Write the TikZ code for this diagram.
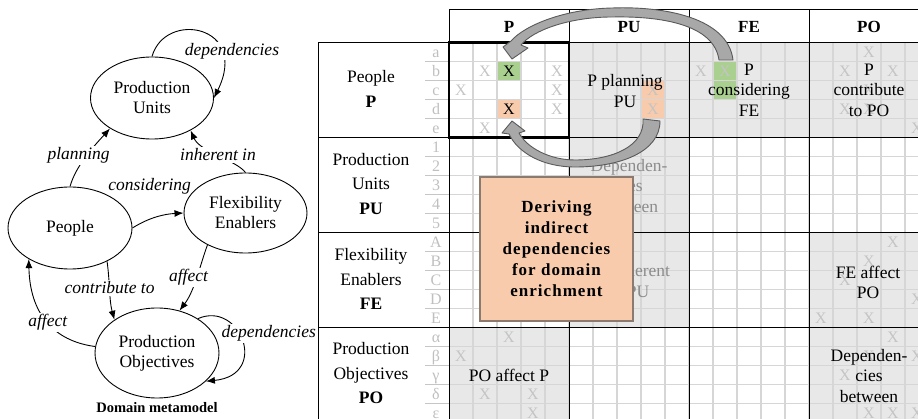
\documentclass[tikz,border=0pt]{standalone}
\usepackage{fontspec}
\setmainfont{Liberation Serif}
\usetikzlibrary{arrows.meta,shapes.geometric}

\definecolor{blockgray}{HTML}{E8E8E8}
\definecolor{gridgray}{HTML}{D6D6D6}
\definecolor{xgray}{HTML}{C4C4C4}
\definecolor{cellgreen}{HTML}{A9D08E}
\definecolor{cellorange}{HTML}{F8CBAD}
\definecolor{boxedge}{HTML}{8A7A70}
\definecolor{arrowfill}{HTML}{A8A8A8}
\definecolor{arrowedge}{HTML}{5A5A5A}

\begin{document}
\begin{tikzpicture}[x=1pt,y=-1pt,
  concept/.style={ellipse,draw,line width=0.9pt,inner sep=0pt,align=center,font=\fontsize{17.5}{20}\selectfont},
  rel/.style={-{Latex[length=9pt,width=7pt]},line width=0.9pt},
  lbl/.style={font=\fontsize{17.5}{20}\selectfont\itshape,fill=white,inner sep=1.5pt},
  gridline/.style={gridgray,line width=1.1pt},
  block/.style={line width=1pt},
  rowline/.style={line width=1.7pt},
  cellx/.style={font=\fontsize{16}{16}\selectfont,xgray,inner sep=0pt},
  hdr/.style={font=\fontsize{17}{20}\selectfont\bfseries},
  rowhdr/.style={align=center,font=\fontsize{17.5}{24.5}\selectfont},
  sub/.style={font=\fontsize{16}{16}\selectfont,gray!50,inner sep=0pt,anchor=base},
  cell/.style={align=center,font=\fontsize{17.5}{20.5}\selectfont,inner sep=0pt},
  curvy/.style={fill=arrowfill,draw=arrowedge,line width=0.9pt,line join=round}]
  \useasboundingbox (0,0) rectangle (918,419);

  % Domain metamodel
  \node[concept,minimum width=123pt,minimum height=82pt] (pu) at (152,98) {Production\\Units};
  \node[concept,minimum width=124pt,minimum height=82pt] (people) at (70,228) {People};
  \node[concept,minimum width=123pt,minimum height=80pt] (fe) at (245.5,213) {Flexibility\\Enablers};
  \node[concept,minimum width=124pt,minimum height=90pt] (po) at (157,353) {Production\\Objectives};
  \node[font=\fontsize{14.5}{16}\selectfont\bfseries] (title) at (157,408) {Domain metamodel};

  \draw[rel] (pu.north) .. controls (165,10) and (250,25) .. node[lbl,pos=0.7,xshift=13pt,yshift=-3pt] {dependencies} (pu.east);
  \draw[rel] (people.north) .. controls (76,165) and (95,145) .. node[lbl,pos=0.5,xshift=-8pt] {planning} (pu.216);
  \draw[rel] (fe.north) .. controls (236,160) and (200,152) .. node[lbl,pos=0.5] {inherent in} (pu.320);
  \draw[rel] (people.east) .. controls (150,217) and (165,214) .. node[lbl,pos=0.4,xshift=-3pt,yshift=32pt,fill=none] {considering} (fe.west);
  \draw[rel] (people.318) .. controls (110,282) and (109,300) .. node[lbl,pos=0.45] {contribute to} (po.142);
  \draw[rel] (fe.220) .. controls (200,265) and (195,290) .. node[lbl,pos=0.5,xshift=-8pt] {affect} (po.62);
  \draw[rel] (po.174) .. controls (60,342) and (30,320) .. node[lbl,pos=0.52] {affect} (people.217);
  \draw[rel] (po.40) .. controls (240,300) and (270,375) .. node[lbl,pos=0.5,xshift=27pt,yshift=7pt] {dependencies} (po.330);

  % Matrix: shaded blocks and marked cells
  \foreach \xa/\ya in {569/42.5,689/42.5,809/42.5,569/137.5,569/232.5,809/232.5,449/327.5,809/327.5}
    \fill[blockgray] (\xa,\ya) rectangle ++(120,95);
  \fill[cellgreen] (497,61.5) rectangle (521,80.5);
  \fill[cellgreen] (713,61.5) rectangle (737,99.5);
  \fill[cellorange] (497,99.5) rectangle (521,118.5);
  \fill[cellorange] (641,80.5) rectangle (665,118.5);

  % Grid
  \foreach \k in {1,...,19}
    \draw[gridline] (449+24*\k,42.5) -- (449+24*\k,419);
  \foreach \k in {1,...,19}
    \draw[gridline] (449,42.5+19*\k) -- (918,42.5+19*\k);
  \foreach \k in {1,...,19}
    \draw[gray!45,line width=0.8pt] (425,42.5+19*\k) -- (449,42.5+19*\k);

  % Block borders
  \draw[block] (449,10) -- (918,10);
  \foreach \xb in {449,569,689,809}
    \draw[block] (\xb,10) -- (\xb,419);
  \draw[block] (318,42.5) -- (318,419);
  \foreach \yb in {42.5,137.5,232.5,327.5}
    \draw[rowline] (318,\yb) -- (918,\yb);
  \draw[line width=2.4pt] (449,42.5) rectangle (569,137.5);

  % Headers
  \foreach \h [count=\i from 0] in {P,PU,FE,PO}
    \node[hdr] (h\h) at (509+120*\i,27) {\h};
  \node[rowhdr] (rp) at (371,89) {People\\\textbf{P}};
  \node[rowhdr] (rpu) at (371,184) {Production\\Units\\\textbf{PU}};
  \node[rowhdr] (rfe) at (371,279) {Flexibility\\Enablers\\\textbf{FE}};
  \node[rowhdr] (rpo) at (371,373.5) {Production\\Objectives\\\textbf{PO}};
  \foreach \lst [count=\b from 0] in {{a,b,c,d,e},{1,2,3,4,5},{A,B,C,D,E},{α,β,γ,δ,ε}}
    \foreach \s [count=\i] in \lst
      \node[sub] (sub\b\i) at (436,38.5+95*\b+19*\i) {\s};

  % X marks
  \foreach \px/\py [count=\n] in {485/71,557/71,461/90,557/90,557/109,485/128,
      653/90,653/109,701/71,725/71,
      869/52,845/71,893/71,869/90,845/109,869/109,917/128,
      893/242,869/261,845/280,917/299,821/318,869/318,
      893/337,869/356,917/356,845/375,869/413,893/413,917/413,
      509/337,461/356,485/394,533/394,533/413}
    \node[cellx] (mk\n) at (\px,\py) {X};
  \node[cellx,black] (mkb) at (509,71) {X};
  \node[cellx,black] (mkd) at (509,109) {X};

  % Block texts
  \node[cell] (tplan) at (625,91) {P planning\\PU};
  \node[cell] (tcons) at (749,90) {P\\considering\\FE};
  \node[cell] (tcontr) at (869,90) {P\\contribute\\to PO};
  \node[cell,black!45] (tdepu) at (629,186) {Dependen-\\cies\\between};
  \node[cell,black!45] (tinh) at (629,281) {FE inherent\\in PU};
  \node[cell] (tfeaff) at (868,282.5) {FE affect\\PO};
  \node[cell] (tpoaff) at (509,375) {PO affect P};
  \node[cell] (tdepo) at (869,376) {Dependen-\\cies\\between};

  % Derivation box
  \node[draw=boxedge,fill=cellorange,line width=1.3pt,minimum width=153pt,minimum height=144pt,align=center,
        font=\fontsize{17}{21}\selectfont\bfseries\addfontfeature{LetterSpace=6}] (deriving) at (556.5,249)
        {Deriving\\indirect\\dependencies\\for domain\\enrichment};

  % Curved arrows
  \draw[curvy] (733,60) .. controls (728,18) and (665,6) .. (612,8) .. controls (565,9) and (525,25) .. (511,41)
    -- (503,47) -- (512,59) -- (528,48) -- (521,45) .. controls (533,30) and (570,17) .. (612,17)
    .. controls (660,16) and (714,24) .. (719,60) -- cycle;
  \draw[curvy] (660,121) .. controls (660,152) and (620,167) .. (575,167) .. controls (543,167) and (518,153) .. (509,134)
    -- (502,133) -- (512,121) -- (525,131) -- (519,133) .. controls (527,148) and (550,160) .. (575,160)
    .. controls (613,160) and (645,146) .. (643,119) -- cycle;
\end{tikzpicture}
\end{document}
